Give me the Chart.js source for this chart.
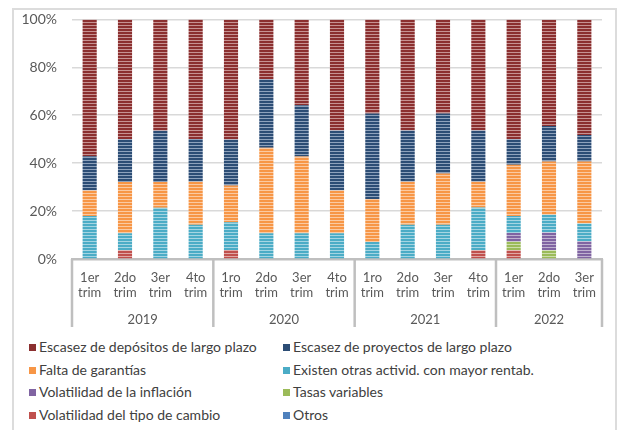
<!DOCTYPE html>
<html>
<head>
<meta charset="utf-8">
<script src="https://cdn.jsdelivr.net/npm/chart.js@4"></script>
<style>
  body { margin: 0; background: #fff; font-family: Lato, sans-serif; }
  #frame { position: absolute; left: 12px; top: 8px; width: 601px; height: 440px; border: 2px solid #dcdcdc; }
  #wrap { position: absolute; left: 0; top: -4px; width: 618px; height: 339px; }
  #legend { position: absolute; left: 29px; top: 339px; width: 580px; }
  .item { position: absolute; font-size: 14px; color: #404040; white-space: nowrap; line-height: 16px; }
  .box { display: inline-block; width: 7px; height: 7px; margin-right: 3px; vertical-align: 1px; }
</style>
</head>
<body>
<div id="frame"></div>
<div id="wrap"><canvas id="myChart"></canvas></div>
<div id="legend"></div>
<script>
var quarters = [['1er','trim'],['2do','trim'],['3er','trim'],['4to','trim'],
                ['1ro','trim'],['2do','trim'],['3er','trim'],['4to','trim'],
                ['1ro','trim'],['2do','trim'],['3er','trim'],['4to','trim'],
                ['1er','trim'],['2do','trim'],['3er','trim']];
var years = ['2019', '2020', '2021', '2022'];
var yearSizes = [4, 4, 4, 3];
var yTicks = [0, 20, 40, 60, 80, 100];

// shares in %, bottom of the stack first
var otros        = [0, 0, 0, 0, 0, 0, 0, 0, 0, 0, 0, 0, 0, 0, 0];
var volCambio    = [0, 3.6, 0, 0, 3.8, 0, 0, 0, 0, 0, 0, 3.6, 3.6, 0, 0];
var tasasVar     = [0, 0, 0, 0, 0, 0, 0, 0, 0, 0, 0, 0, 3.6, 3.7, 0];
var volInflacion = [0, 0, 0, 0, 0, 0, 0, 0, 0, 0, 0, 0, 3.6, 7.4, 7.4];
var otrasActiv   = [17.9, 7.1, 21.4, 14.3, 11.5, 10.7, 10.7, 10.7, 7.1, 14.3, 14.3, 17.9, 7.1, 7.4, 7.4];
var garantias    = [10.7, 21.4, 10.7, 17.9, 15.4, 35.7, 32.1, 17.9, 17.9, 17.9, 21.4, 10.7, 21.4, 22.2, 25.9];
var proyectos    = [14.3, 17.9, 21.4, 17.9, 19.2, 28.6, 21.4, 25.0, 35.7, 21.4, 25.0, 21.4, 10.7, 14.8, 11.1];
var depositos    = [57.1, 50.0, 46.4, 50.0, 50.0, 25.0, 35.7, 46.4, 39.3, 46.4, 39.3, 46.4, 50.0, 44.4, 48.1];

var series = [
  { label: 'Otros', data: otros, color: '#4f81bd', light: '#a7c0de' },
  { label: 'Volatilidad del tipo de cambio', data: volCambio, color: '#c0504d', light: '#e0a8a6' },
  { label: 'Tasas variables', data: tasasVar, color: '#9bbb59', light: '#cdddac' },
  { label: 'Volatilidad de la inflación', data: volInflacion, color: '#8064a2', light: '#bfb2d0' },
  { label: 'Existen otras activid. con mayor rentab.', data: otrasActiv, color: '#4bacc6', light: '#a5d5e2' },
  { label: 'Falta de garantías', data: garantias, color: '#f79646', light: '#fbcaa2' },
  { label: 'Escasez de proyectos de largo plazo', data: proyectos, color: '#2c4d75', light: '#8ea2bc' },
  { label: 'Escasez de depósitos de largo plazo', data: depositos, color: '#8b2f2f', light: '#c69292' }
];

var ctx = document.getElementById('myChart').getContext('2d');

function stripes(color, light) {
  var c = document.createElement('canvas');
  c.width = 4; c.height = 3;
  var g = c.getContext('2d');
  g.fillStyle = color; g.fillRect(0, 0, 4, 3);
  g.fillStyle = light; g.fillRect(0, 2, 4, 1);
  return ctx.createPattern(c, 'repeat');
}

// year row under the quarter labels, with separators
var yearGroups = {
  id: 'yearGroups',
  afterDraw: function (chart) {
    var x = chart.scales.x, a = chart.chartArea, c = chart.ctx;
    var edges = [a.left], idx = 0;
    for (var i = 0; i < yearSizes.length; i++) {
      idx += yearSizes[i];
      if (idx < quarters.length) {
        edges.push((x.getPixelForValue(idx - 1) + x.getPixelForValue(idx)) / 2);
      } else {
        edges.push(a.right);
      }
    }
    c.save();
    c.strokeStyle = '#bfbfbf';
    c.lineWidth = 2.5;
    edges.forEach(function (e) {
      c.beginPath();
      c.moveTo(e, a.bottom);
      c.lineTo(e, a.bottom + 68);
      c.stroke();
    });
    c.fillStyle = '#595959';
    c.font = '13px Lato';
    c.textAlign = 'center';
    c.textBaseline = 'middle';
    for (var j = 0; j < years.length; j++) {
      c.fillText(years[j], (edges[j] + edges[j + 1]) / 2, a.bottom + 61);
    }
    c.restore();
  }
};

var myChart = new Chart(ctx, {
  type: 'bar',
  data: {
    labels: quarters,
    datasets: series.map(function (s) {
      return {
        label: s.label,
        data: s.data,
        backgroundColor: stripes(s.color, s.light),
        borderWidth: 0,
        barPercentage: 0.4,
        categoryPercentage: 1
      };
    })
  },
  options: {
    responsive: true,
    maintainAspectRatio: false,
    animation: false,
    layout: { padding: { left: 14, right: 16, top: 11, bottom: 0 } },
    plugins: {
      legend: { display: false },
      tooltip: { enabled: false }
    },
    scales: {
      x: {
        stacked: true,
        grid: { display: false },
        border: { display: true, color: '#bfbfbf', width: 2.5 },
        ticks: {
          color: '#595959',
          font: { family: 'Lato', size: 13, lineHeight: 1.1 },
          padding: 4,
          maxRotation: 0,
          autoSkip: false
        },
        afterFit: function (scale) { scale.height = 76; }
      },
      y: {
        stacked: true,
        min: 0,
        max: 100,
        afterBuildTicks: function (scale) {
          scale.ticks = yTicks.map(function (v) { return { value: v }; });
        },
        grid: { color: '#d9d9d9', lineWidth: 1.5, drawTicks: false },
        border: { display: false },
        ticks: {
          color: '#595959',
          font: { family: 'Lato', size: 14 },
          padding: 15,
          callback: function (v) { return v + '%'; }
        },
        afterFit: function (scale) { scale.width = 58; }
      }
    }
  },
  plugins: [yearGroups]
});

// legend in two columns, top of the stack first
var legend = document.getElementById('legend');
var order = series.slice().reverse();
order.forEach(function (s, i) {
  var d = document.createElement('div');
  d.className = 'item';
  d.style.left = (i % 2 ? 254 : 0) + 'px';
  d.style.top = (Math.floor(i / 2) * 22.7) + 'px';
  d.innerHTML = '<span class="box" style="background:' + s.color + '"></span>' + s.label;
  legend.appendChild(d);
});
</script>
</body>
</html>
